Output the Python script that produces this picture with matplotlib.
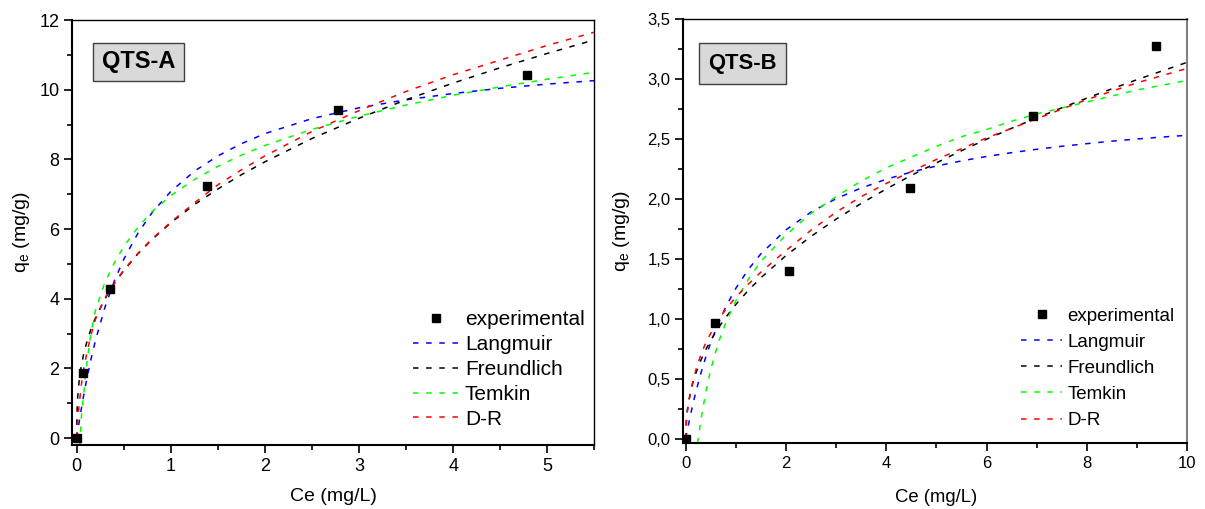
import matplotlib
matplotlib.use("Agg")
import matplotlib.pyplot as plt
from matplotlib.ticker import MultipleLocator, FuncFormatter
from matplotlib.patches import Rectangle

plt.rcParams['font.family'] = ['Liberation Sans', 'DejaVu Sans']

# ---------------- QTS-A data ----------------
a_exp_x = [0.0, 0.064, 0.354, 1.38, 2.78, 4.79]
a_exp_y = [0.0, 1.86, 4.28, 7.24, 9.43, 10.41]

a_x = [0, 0.001, 0.005, 0.01, 0.025, 0.05, 0.075, 0.1, 0.15, 0.2, 0.3, 0.4, 0.5,
       0.65, 0.8, 1.0, 1.25, 1.5, 1.75, 2.0, 2.5, 3.0, 3.5, 4.0, 4.5, 5.0, 5.5]
a_langmuir = [0, 0.02, 0.093, 0.184, 0.449, 0.864, 1.248, 1.606, 2.25, 2.815, 3.76, 4.515, 5.136,
              5.88, 6.47, 7.08, 7.66, 8.10, 8.45, 8.74, 9.17, 9.48, 9.71, 9.89, 10.04, 10.16, 10.26]
a_freundlich = [0, 0.512, 0.915, 1.174, 1.635, 2.10, 2.43, 2.69, 3.12, 3.46, 4.00, 4.44, 4.81,
                5.29, 5.70, 6.18, 6.70, 7.15, 7.56, 7.93, 8.60, 9.18, 9.71, 10.19, 10.63, 11.04, 11.43]
a_dr = [0, 0.1, 0.3, 0.5, 0.95, 1.55, 2.0, 2.35, 2.95, 3.42, 4.02, 4.45, 4.82,
        5.3, 5.72, 6.2, 6.75, 7.27, 7.7, 8.1, 8.8, 9.4, 9.95, 10.43, 10.85, 11.27, 11.65]
a_tx = [0.033, 0.05, 0.075, 0.1, 0.15, 0.2, 0.3, 0.4, 0.5, 0.65, 0.8, 1.0, 1.25, 1.5,
        1.75, 2.0, 2.5, 3.0, 3.5, 4.0, 4.5, 5.0, 5.5]
a_temkin = [-0.2, 0.65, 1.3, 2.0, 3.0, 3.68, 4.48, 5.03, 5.5, 6.05, 6.5, 6.96, 7.42, 7.8,
            8.12, 8.4, 8.86, 9.24, 9.56, 9.84, 10.08, 10.3, 10.5]

# ---------------- QTS-B data ----------------
b_exp_x = [0.0, 0.586, 2.05, 4.47, 6.93, 9.39]
b_exp_y = [0.0, 0.963, 1.40, 2.088, 2.69, 3.28]

b_x = [0, 0.002, 0.01, 0.025, 0.05, 0.1, 0.15, 0.2, 0.3, 0.4, 0.5, 0.65, 0.8, 1.0, 1.25, 1.5,
       2.0, 2.5, 3.0, 3.5, 4.0, 4.5, 5.0, 5.5, 6.0, 6.5, 7.0, 7.5, 8.0, 8.5, 9.0, 9.5, 10.0]
b_langmuir = [0, 0.0045, 0.0222, 0.0549, 0.1077, 0.2076, 0.3005, 0.387, 0.544, 0.682, 0.804, 0.964,
              1.101, 1.255, 1.413, 1.543, 1.743, 1.891, 2.003, 2.092, 2.165, 2.225, 2.275, 2.318,
              2.355, 2.387, 2.415, 2.440, 2.462, 2.483, 2.501, 2.517, 2.532]
b_freundlich = [0, 0.069, 0.142, 0.215, 0.293, 0.399, 0.479, 0.545, 0.653, 0.743, 0.821, 0.924,
                1.013, 1.12, 1.238, 1.343, 1.528, 1.688, 1.832, 1.963, 2.084, 2.197, 2.302, 2.403,
                2.499, 2.590, 2.677, 2.761, 2.842, 2.920, 2.996, 3.069, 3.141]
b_dr = [0, 0.05, 0.12, 0.2, 0.28, 0.4, 0.49, 0.57, 0.70, 0.80, 0.88, 0.99,
        1.08, 1.18, 1.29, 1.39, 1.57, 1.74, 1.89, 2.02, 2.13, 2.23, 2.33, 2.42,
        2.51, 2.59, 2.67, 2.75, 2.83, 2.90, 2.97, 3.03, 3.09]
b_tx = [0.233, 0.25, 0.3, 0.4, 0.5, 0.65, 0.8, 1.0, 1.25, 1.5, 2.0, 2.5, 3.0, 3.5, 4.0, 4.5,
        5.0, 5.5, 6.0, 6.5, 7.0, 7.5, 8.0, 8.5, 9.0, 9.5, 10.0]
b_temkin = [-0.04, 0.0, 0.15, 0.39, 0.58, 0.8, 0.97, 1.15, 1.33, 1.48, 1.70, 1.88, 2.02, 2.15,
            2.26, 2.35, 2.44, 2.52, 2.58, 2.65, 2.71, 2.76, 2.81, 2.86, 2.91, 2.95, 2.99]

labels = ['experimental', 'Langmuir', 'Freundlich', 'Temkin', 'D-R']
x_label = 'Ce (mg/L)'
y_label = 'q$_\\mathregular{e}$ (mg/g)'

fig = plt.figure(figsize=(12.05, 5.09), dpi=100)
axA = fig.add_axes([0.0598, 0.1257, 0.4334, 0.835])
axB = fig.add_axes([0.5666, 0.1290, 0.4185, 0.833])

DASH = (3.6, 5.0)
LW = 1.1


def draw(ax, ex, ey, x, lang, freu, tx, tem, dr):
    ax.plot(ex, ey, 's', color='black', ms=6, label=labels[0], zorder=5)
    ax.plot(x, lang, color='#0000ff', lw=LW, dashes=DASH, label=labels[1])
    ax.plot(x, freu, color='black', lw=LW, dashes=DASH, label=labels[2])
    ax.plot(tx, tem, color='#00ff00', lw=LW, dashes=DASH, label=labels[3])
    ax.plot(x, dr, color='#ff0000', lw=LW, dashes=DASH, label=labels[4])


draw(axA, a_exp_x, a_exp_y, a_x, a_langmuir, a_freundlich, a_tx, a_temkin, a_dr)
draw(axB, b_exp_x, b_exp_y, b_x, b_langmuir, b_freundlich, b_tx, b_temkin, b_dr)

axA.set_xlim(-0.05, 5.5)
axA.set_ylim(-0.2, 12)
axA.xaxis.set_major_locator(MultipleLocator(1))
axA.xaxis.set_minor_locator(MultipleLocator(0.5))
axA.yaxis.set_major_locator(MultipleLocator(2))
axA.yaxis.set_minor_locator(MultipleLocator(1))

axB.set_xlim(-0.06, 10)
axB.set_ylim(-0.04, 3.5)
axB.xaxis.set_major_locator(MultipleLocator(2))
axB.xaxis.set_minor_locator(MultipleLocator(1))
axB.yaxis.set_major_locator(MultipleLocator(0.5))
axB.yaxis.set_minor_locator(MultipleLocator(0.25))
axB.yaxis.set_major_formatter(FuncFormatter(lambda v, p: f"{v:.1f}".replace('.', ',')))

for ax, tsize, xls in ((axA, 13, 14), (axB, 12, 13.3)):
    ax.tick_params(which='both', direction='out', top=False, right=False, labelsize=tsize, width=1.2)
    ax.tick_params(which='major', length=6, pad=3)
    ax.tick_params(which='minor', length=3.5)
    ax.spines['left'].set_linewidth(1.5)
    ax.spines['bottom'].set_linewidth(1.5)
    ax.spines['top'].set_linewidth(1.0)
    ax.spines['right'].set_linewidth(1.0)
    ax.set_xlabel(x_label, fontsize=xls)
    ax.set_ylabel(y_label, fontsize=14)
    ax.xaxis.label.set_va('center')
    ax.yaxis.label.set_va('center')
axB.spines['right'].set_color('#808080')
axB.spines['right'].set_linewidth(1.5)

axA.xaxis.set_label_coords(0.501, -0.122)
axB.xaxis.set_label_coords(0.502, -0.127)
axA.yaxis.set_label_coords(-0.0977, 0.5)
axB.yaxis.set_label_coords(-0.121, 0.5)

# title boxes
for ax, name, fs, (x0, x1, y0, y1) in ((axA, 'QTS-A', 17, (0.0402, 0.2146, 0.8565, 0.9459)),
                                       (axB, 'QTS-B', 15.8, (0.0323, 0.2048, 0.8474, 0.9441))):
    ax.add_patch(Rectangle((x0, y0), x1 - x0, y1 - y0, transform=ax.transAxes,
                           facecolor='#d9d9d9', edgecolor='#404040', lw=1.0, zorder=6))
    ax.text((x0 + x1) / 2, (y0 + y1) / 2, name, transform=ax.transAxes, ha='center',
            va='center', fontsize=fs, fontweight='bold', zorder=7)

legA = axA.legend(loc='upper left', bbox_to_anchor=(0.653, 0.3167), frameon=False,
                  fontsize=15, borderpad=0, borderaxespad=0, handlelength=2.2,
                  handletextpad=0.29, labelspacing=0.28)
legB = axB.legend(loc='upper left', bbox_to_anchor=(0.671, 0.3205), frameon=False,
                  fontsize=13.5, borderpad=0, borderaxespad=0, handlelength=2.19,
                  handletextpad=0.27, labelspacing=0.48)

fig.savefig('out.png', dpi=100)
